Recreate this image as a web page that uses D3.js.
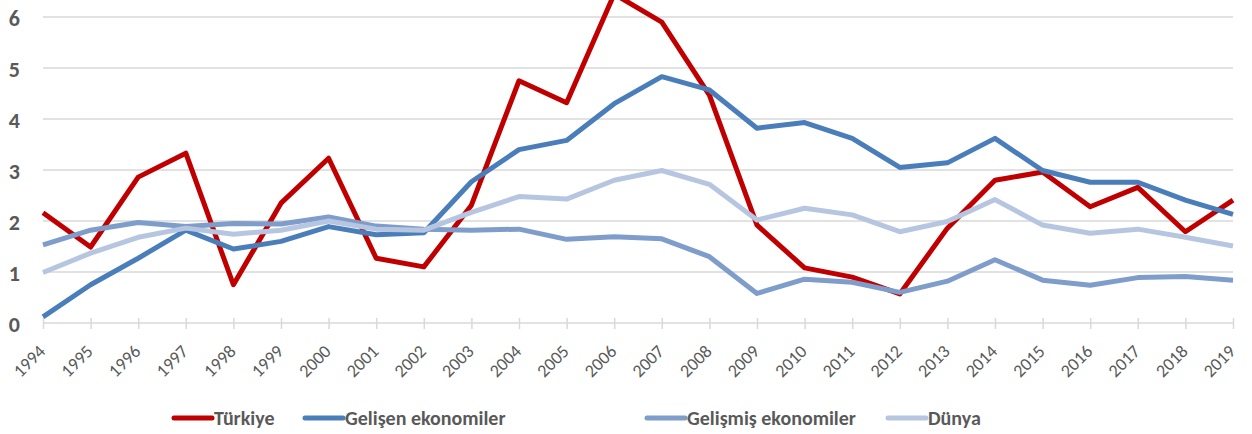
<!DOCTYPE html>
<html>
<head>
<meta charset="utf-8">
<script src="https://cdn.jsdelivr.net/npm/d3@7"></script>
<style>
  body { margin: 0; background: #fff; }
  svg { display: block; font-family: Carlito, Calibri, Lato, sans-serif; }
</style>
</head>
<body>
<svg id="chart" width="1252" height="434"></svg>
<script>
var years = [1994, 1995, 1996, 1997, 1998, 1999, 2000, 2001, 2002, 2003, 2004, 2005, 2006,
             2007, 2008, 2009, 2010, 2011, 2012, 2013, 2014, 2015, 2016, 2017, 2018, 2019];
var yTicks = [0, 1, 2, 3, 4, 5, 6];

var turkiye = [2.16, 1.49, 2.86, 3.33, 0.75, 2.35, 3.23, 1.27, 1.10, 2.31, 4.75, 4.32, 6.45,
               5.90, 4.47, 1.92, 1.08, 0.90, 0.57, 1.86, 2.80, 2.96, 2.28, 2.66, 1.79, 2.41];
var gelisen = [0.12, 0.75, 1.27, 1.82, 1.45, 1.60, 1.89, 1.73, 1.77, 2.77, 3.40, 3.58, 4.30,
               4.83, 4.57, 3.82, 3.93, 3.62, 3.05, 3.14, 3.62, 2.99, 2.76, 2.76, 2.41, 2.13];
var gelismis = [1.53, 1.82, 1.97, 1.89, 1.95, 1.94, 2.08, 1.90, 1.84, 1.82, 1.84, 1.64, 1.69,
                1.65, 1.30, 0.58, 0.86, 0.80, 0.60, 0.82, 1.24, 0.84, 0.74, 0.89, 0.91, 0.84];
var dunya = [0.99, 1.37, 1.68, 1.86, 1.74, 1.82, 2.00, 1.84, 1.82, 2.17, 2.48, 2.43, 2.80,
             2.99, 2.72, 2.02, 2.25, 2.12, 1.79, 1.99, 2.42, 1.92, 1.76, 1.84, 1.68, 1.51];

var seriesNames = ["Türkiye", "Gelişen ekonomiler", "Gelişmiş ekonomiler", "Dünya"];
var seriesColors = ["#C00000", "#4A7EBB", "#7E9DCB", "#B7C6E0"];
var seriesValues = [turkiye, gelisen, gelismis, dunya];

var svg = d3.select("#chart");
var textColor = "#595959";
var gridColor = "#D9D9D9";

// plot area (top of it is cut off in the original picture)
var x = d3.scalePoint().domain(years).range([43, 1233]);
var y = d3.scaleLinear().domain([0, 6]).range([323, 17]);

// gridlines
svg.append("g")
  .selectAll("line")
  .data(yTicks.filter(function(d) { return d > 0; }))
  .enter().append("line")
  .attr("x1", 43).attr("x2", 1233)
  .attr("y1", function(d) { return y(d); })
  .attr("y2", function(d) { return y(d); })
  .attr("stroke", gridColor)
  .attr("stroke-width", 1.5);

// y labels
svg.append("g")
  .selectAll("text")
  .data(yTicks)
  .enter().append("text")
  .attr("x", 20)
  .attr("y", function(d) { return y(d) + 1; })
  .attr("dy", "0.36em")
  .attr("text-anchor", "end")
  .attr("font-size", 22)
  .attr("font-weight", "bold")
  .attr("fill", textColor)
  .text(function(d) { return d; });

// x axis
var xAxis = svg.append("g")
  .attr("transform", "translate(0," + y(0) + ")")
  .call(d3.axisBottom(x).tickSize(6).tickFormat(""));
xAxis.select(".domain").remove();
xAxis.append("line")
  .attr("x1", 43).attr("x2", 1233)
  .attr("stroke", gridColor).attr("stroke-width", 1.5);
xAxis.selectAll(".tick line")
  .attr("y1", -5).attr("y2", 6)
  .attr("stroke", gridColor).attr("stroke-width", 1.5);

svg.append("g")
  .selectAll("text")
  .data(years)
  .enter().append("text")
  .attr("transform", function(d) { return "translate(" + (x(d) - 1) + "," + (y(0) + 25) + ") rotate(-45)"; })
  .attr("text-anchor", "end")
  .attr("dy", "0.35em")
  .attr("font-size", 18)
  .attr("fill", textColor)
  .text(function(d) { return d; });

// lines
var line = d3.line()
  .x(function(d, i) { return x(years[i]); })
  .y(function(d) { return y(d); });

svg.append("g")
  .selectAll("path")
  .data(seriesValues)
  .enter().append("path")
  .attr("d", line)
  .attr("fill", "none")
  .attr("stroke", function(d, i) { return seriesColors[i]; })
  .attr("stroke-width", 5)
  .attr("stroke-linejoin", "round");

// legend
var legendX = [174, 305, 647, 888];
var legend = svg.append("g")
  .selectAll("g")
  .data(seriesNames)
  .enter().append("g")
  .attr("transform", function(d, i) { return "translate(" + legendX[i] + ",418)"; });

legend.append("line")
  .attr("x1", 0).attr("x2", 38)
  .attr("stroke", function(d, i) { return seriesColors[i]; })
  .attr("stroke-width", 5)
  .attr("stroke-linecap", "round");

legend.append("text")
  .attr("x", 40)
  .attr("dy", "0.35em")
  .attr("font-size", 20)
  .attr("font-weight", "bold")
  .attr("fill", textColor)
  .text(function(d) { return d; });
</script>
</body>
</html>
